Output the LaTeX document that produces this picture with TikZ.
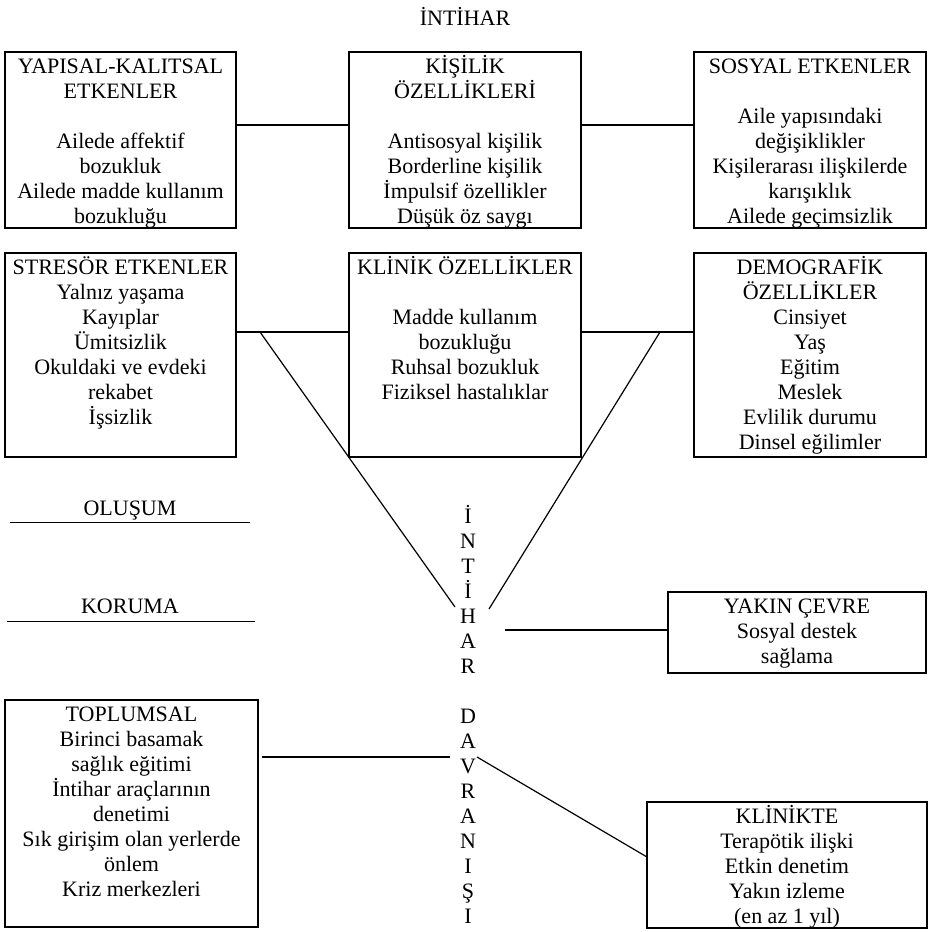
\documentclass[tikz,border=0pt]{standalone}
\usepackage{fontspec}
\setmainfont{Liberation Serif}
\newcommand\bxt[3]{\begin{minipage}[t][#2pt][t]{#1pt}\centering\fontsize{22}{25}\selectfont\rule{0pt}{21pt}#3\end{minipage}}
\tikzset{
  boxst/.style={draw, line width=1.3pt, inner sep=0pt, outer sep=0pt, anchor=north west},
  conn/.style={line width=1.6pt},
  diag/.style={line width=1.2pt},
  lbl/.style={inner sep=0pt, outer sep=0pt, font=\fontsize{22}{25}\selectfont, anchor=base},
  dbl/.style={double, double distance=0.9pt, line width=0.9pt},
}
\begin{document}
\begin{tikzpicture}[x=1pt, y=-1pt]
\useasboundingbox (0,0) rectangle (930,932);

\node[lbl] (title) at (465,25.5) {İNTİHAR};

% row 1
\node[boxst] (A) at (5,52) {\bxt{231}{176}{YAPISAL-KALITSAL\\ETKENLER\\[25pt]Ailede affektif\\bozukluk\\Ailede madde kullanım\\bozukluğu}};
\node[boxst] (B) at (349,52) {\bxt{232}{176}{KİŞİLİK\\ÖZELLİKLERİ\\[25pt]Antisosyal kişilik\\Borderline kişilik\\İmpulsif özellikler\\Düşük öz saygı}};
\node[boxst] (C) at (694,52) {\bxt{232}{176}{SOSYAL ETKENLER\\[25pt]Aile yapısındaki\\değişiklikler\\Kişilerarası ilişkilerde\\karışıklık\\Ailede geçimsizlik}};

% row 2
\node[boxst] (D) at (5,253) {\bxt{231}{204}{STRESÖR ETKENLER\\Yalnız yaşama\\Kayıplar\\Ümitsizlik\\Okuldaki ve evdeki\\rekabet\\İşsizlik}};
\node[boxst] (E) at (349,253) {\bxt{232}{204}{KLİNİK ÖZELLİKLER\\[25pt]Madde kullanım\\bozukluğu\\Ruhsal bozukluk\\Fiziksel hastalıklar}};
\node[boxst] (F) at (694,253) {\bxt{232}{204}{DEMOGRAFİK\\ÖZELLİKLER\\Cinsiyet\\Yaş\\Eğitim\\Meslek\\Evlilik durumu\\Dinsel eğilimler}};

% lower boxes
\node[boxst] (Y) at (668,592) {\bxt{258}{81}{YAKIN ÇEVRE\\Sosyal destek\\sağlama}};
\node[boxst] (T) at (5,700) {\bxt{253}{227}{TOPLUMSAL\\Birinci basamak\\sağlık eğitimi\\İntihar araçlarının\\denetimi\\Sık girişim olan yerlerde\\önlem\\Kriz merkezleri}};
\node[boxst] (K) at (647,802) {\bxt{280}{126}{KLİNİKTE\\Terapötik ilişki\\Etkin denetim\\Yakın izleme\\(en az 1 yıl)}};

% vertical word
\foreach \l [count=\i] in {İ,N,T,İ,H,A,R} {
  \node[lbl] (c\i) at (468,{523+25*(\i-1)}) {\l};
}
\foreach \l [count=\i] in {D,A,V,R,A,N,I,Ş,I} {
  \node[lbl] (d\i) at (468,{723+25*(\i-1)}) {\l};
}

% side labels
\node[lbl] (olu) at (130,515) {OLUŞUM};
\node[lbl] (kor) at (130,613) {KORUMA};
\coordinate (o1) at (10,523);  \coordinate (o2) at (250,523);
\coordinate (k1) at (7,622);   \coordinate (k2) at (255,622);
\draw[dbl] (o1) -- (o2);
\draw[dbl] (k1) -- (k2);

% connectors
\coordinate (r1) at (0,125);
\coordinate (r2) at (0,332);
\draw[conn] (A.east |- r1) -- (B.west |- r1);
\draw[conn] (B.east |- r1) -- (C.west |- r1);
\draw[conn] (D.east |- r2) -- (E.west |- r2);
\draw[conn] (E.east |- r2) -- (F.west |- r2);

\coordinate (dl) at (260,332);
\coordinate (dr) at (660,332);
\coordinate (hl) at (455,607);
\coordinate (hr) at (489,609);
\draw[diag] (dl) -- (hl);
\draw[diag] (dr) -- (hr);

\coordinate (ya) at (505,630);
\draw[conn] (ya) -- (Y.west |- ya);

\coordinate (t1) at (262,757);
\coordinate (t2) at (450,757);
\draw[conn] (t1) -- (t2);

\coordinate (vs) at (477,757);
\coordinate (ke) at (647,857);
\draw[diag] (vs) -- (ke);
\end{tikzpicture}
\end{document}
